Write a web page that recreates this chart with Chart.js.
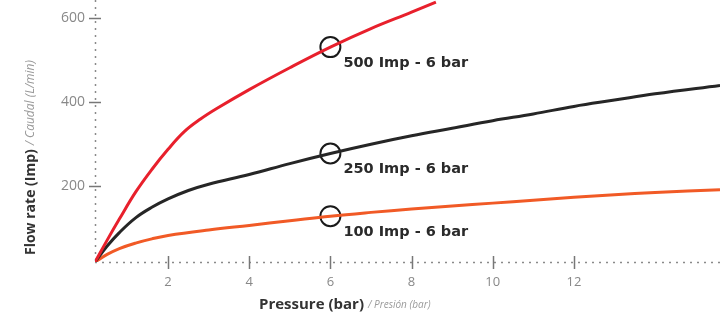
<!DOCTYPE html>
<html>
<head>
<meta charset="utf-8">
<script src="https://cdn.jsdelivr.net/npm/chart.js@4"></script>
<style>
    html, body { margin: 0; padding: 0; background: #fff; }
    #wrap { width: 720px; height: 319px; position: relative; }
</style>
</head>
<body>
<div id="wrap"><canvas id="flow-chart"></canvas></div>
<script>
// Valores (presion en bar, caudal en Imp)
const redX = [0.2, 0.5, 0.8, 1.2, 1.6, 2.0, 2.4, 2.8, 3.2, 4.0, 5.0, 6.0, 7.0, 8.0, 8.6];
const redY = [20, 72, 122, 186, 240, 288, 330, 360, 385, 430, 482, 531, 575, 614, 638];

const blackX = [0.2, 0.5, 0.8, 1.2, 1.6, 2.0, 2.5, 3.0, 4.0, 5.0, 6.0, 7.0, 8.0, 9.0, 10.0, 11.0, 12.0, 13.0, 14.0, 15.6];
const blackY = [20, 58, 90, 125, 150, 170, 190, 205, 228, 254, 278, 300, 320, 338, 356, 372, 390, 405, 420, 440];

const orangeX = [0.2, 0.5, 0.8, 1.2, 1.6, 2.0, 3.0, 4.0, 5.0, 6.0, 7.0, 8.0, 9.0, 10.0, 11.0, 12.0, 13.0, 14.0, 15.6];
const orangeY = [20, 38, 52, 65, 75, 83, 96, 107, 118, 129, 138, 146, 153, 160, 167, 174, 180, 185, 192];

const markX = 6;
const markY = [531, 278, 129];
const markLabels = ["500 Imp - 6 bar", "250 Imp - 6 bar", "100 Imp - 6 bar"];

const xTicks = [2, 4, 6, 8, 10, 12];
const yTicks = [200, 400, 600];

const toPoints = (xs, ys) => xs.map((x, i) => ({ x: x, y: ys[i] }));

const axisTitles = {
    id: "axisTitles",
    beforeDatasetsDraw(chart) {
        const ctx = chart.ctx;
        const area = chart.chartArea;
        const xs = chart.scales.x;
        const ys = chart.scales.y;
        ctx.save();

        // ejes punteados
        ctx.strokeStyle = "#8a8a8a";
        ctx.lineWidth = 1.5;
        ctx.setLineDash([2, 5]);
        ctx.beginPath();
        ctx.moveTo(area.left + 0.5, area.top);
        ctx.lineTo(area.left + 0.5, area.bottom);
        ctx.moveTo(area.left, area.bottom + 0.5);
        ctx.lineTo(area.right, area.bottom + 0.5);
        ctx.stroke();
        ctx.setLineDash([]);

        // marcas de los ejes (cruzan la linea punteada)
        ctx.strokeStyle = "#777";
        ctx.lineWidth = 1.5;
        yTicks.forEach(v => {
            const py = Math.round(ys.getPixelForValue(v)) + 0.5;
            ctx.beginPath();
            ctx.moveTo(area.left - 6, py);
            ctx.lineTo(area.left + 6, py);
            ctx.stroke();
        });
        xTicks.forEach(v => {
            const px = Math.round(xs.getPixelForValue(v)) + 0.5;
            ctx.beginPath();
            ctx.moveTo(px, area.bottom - 6);
            ctx.lineTo(px, area.bottom + 7);
            ctx.stroke();
        });
        ctx.restore();
    },
    afterDraw(chart) {
        const ctx = chart.ctx;
        const area = chart.chartArea;
        const xs = chart.scales.x;
        const ys = chart.scales.y;
        ctx.save();

        // etiquetas de los circulos
        ctx.font = "bold 14.5px 'DejaVu Sans'";
        ctx.fillStyle = "#2a2a2a";
        ctx.textBaseline = "middle";
        ctx.textAlign = "left";
        markY.forEach((v, i) => {
            const px = xs.getPixelForValue(markX);
            const py = ys.getPixelForValue(v);
            ctx.fillText(markLabels[i], px + 13, py + 16);
        });

        // titulo eje x
        let tx = area.left + 164;
        const ty = 305;
        ctx.font = "bold 15px 'Open Sans'";
        ctx.fillStyle = "#333";
        ctx.fillText("Pressure (bar)", tx, ty);
        tx += ctx.measureText("Pressure (bar)").width + 4;
        ctx.font = "italic 10px 'Open Sans'";
        ctx.fillStyle = "#9a9a9a";
        ctx.fillText("/ Presión (bar)", tx, ty);

        // titulo eje y
        ctx.translate(31, 255);
        ctx.rotate(-Math.PI / 2);
        ctx.font = "bold 14px 'Open Sans'";
        ctx.fillStyle = "#333";
        ctx.fillText("Flow rate (Imp)", 0, 0);
        const w = ctx.measureText("Flow rate (Imp)").width + 4;
        ctx.font = "italic 12px 'Open Sans'";
        ctx.fillStyle = "#9a9a9a";
        ctx.fillText("/ Caudal (L/min)", w, 0);
        ctx.restore();
    }
};

const chart = new Chart(document.getElementById("flow-chart"), {
    type: "line",
    data: {
        datasets: [
            {
                label: "500 Imp",
                data: toPoints(redX, redY),
                borderColor: "#e8202c",
                borderWidth: 3,
                pointRadius: 0,
                tension: 0.4
            },
            {
                label: "250 Imp",
                data: toPoints(blackX, blackY),
                borderColor: "#262626",
                borderWidth: 3,
                pointRadius: 0,
                tension: 0.4
            },
            {
                label: "100 Imp",
                data: toPoints(orangeX, orangeY),
                borderColor: "#f15a26",
                borderWidth: 3,
                pointRadius: 0,
                tension: 0.4
            },
            {
                label: "6 bar",
                data: markY.map(v => ({ x: markX, y: v })),
                showLine: false,
                pointRadius: 10,
                pointBorderWidth: 2,
                pointBorderColor: "#1a1a1a",
                pointBackgroundColor: "rgba(0,0,0,0)"
            }
        ]
    },
    options: {
        responsive: true,
        maintainAspectRatio: false,
        animation: false,
        layout: { padding: 0, autoPadding: false },
        plugins: {
            legend: { display: false },
            tooltip: { enabled: false }
        },
        scales: {
            x: {
                type: "linear",
                min: 0.2,
                max: 15.6,
                afterFit(scale) {
                    scale.height = 57;
                    scale.paddingLeft = 0;
                    scale.paddingRight = 0;
                },
                afterBuildTicks(scale) { scale.ticks = xTicks.map(v => ({ value: v })); },
                grid: { display: false, drawTicks: false },
                border: { display: false },
                ticks: {
                    padding: 12,
                    color: "#888",
                    font: { family: "'Open Sans'", size: 13 }
                }
            },
            y: {
                type: "linear",
                min: 20,
                max: 643,
                afterFit(scale) {
                    scale.width = 95;
                    scale.paddingTop = 0;
                    scale.paddingBottom = 0;
                },
                afterBuildTicks(scale) { scale.ticks = yTicks.map(v => ({ value: v })); },
                grid: { display: false, drawTicks: false },
                border: { display: false },
                ticks: {
                    padding: 10,
                    color: "#888",
                    font: { family: "'Open Sans'", size: 14 }
                }
            }
        }
    },
    plugins: [axisTitles]
});
</script>
</body>
</html>
